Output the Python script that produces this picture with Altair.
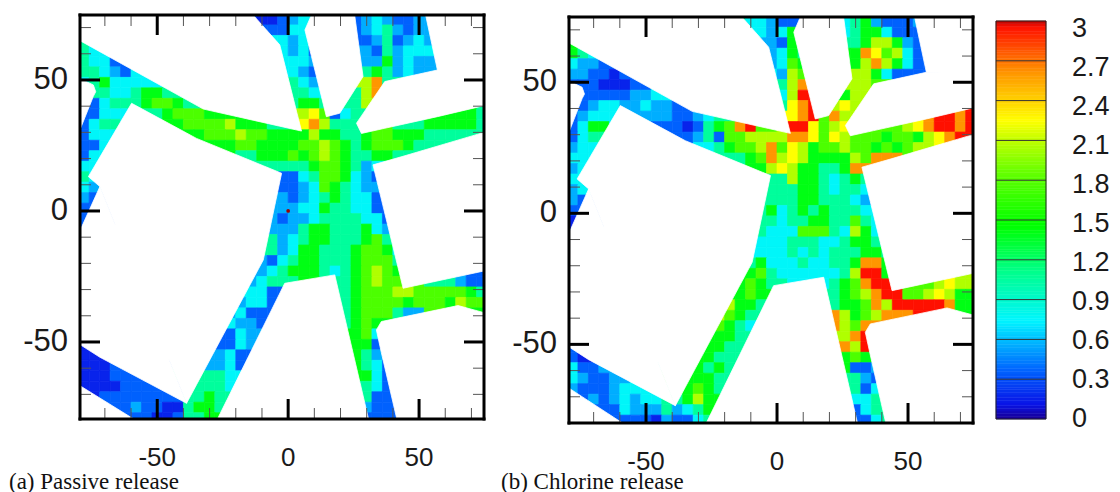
import re
import altair as alt
import pandas as pd

# ---- field values, one letter per 4x4 cell ('.' = building, N.=run of N)
LEVELS = {'b': .15, 'B': .35, 'l': .55, 'c': .75, 't': 1.05, 'g': 1.4, 'G': 1.75,
          'y': 2.05, 'Y': 2.24, 'o': 2.6, 'r': 2.95}
FIELD_A = [
 "16.BbbBlc4.BlclBBll5.", "17.BBBccl3.BlctlBll5.", "t18.clcl4.BltBlcll4.", "tcc16.clcB4.lBtlcccl4.",
 "tccBB14.cccl4.llglclll4.", "ttclBc13.cclB4.tgtlcll5.", "ctgcccc13.tcl4.yot9.", "Bttcctggt11.ttc3.tyo10.",
 "BBctttgGGgt9.tggt.tty11.", "BBcc3.tgGGGgg7.yYGBct12.", "Bct6.gGGGGygggtttYoyttt4.ttgggggt",
 "Bcc8.gGGGyGGggggyggttgGGgggtttttt", "BBc10.ggGGggggGGyGgtgGGGgtt5.", "Bc14.tgggGgGyGgttggt8.",
 "cc16.ttttgGGgtlc10.", "tc17.BBctGGgclB10.", "cl17.BBlcGgtcll10.", "lB17.lBlctgtccB10.",
 "B17.lllccgttccB10.", "B17.lBllcttttccB9.", "18.llltggtttgcl9.", "18.tlctggtttgGt9.",
 "18.tlcggtttgGGgc8.", "17.lBctggtttgGGGt8.", "17.lctgggtctgGyGg8.", "16.lctt4.ttgGyGG3.ttlBB",
 "16.ccB6.tgGGGyyGGGGGgt", "15.lccB6.tgGGGGgGGGgyGG", "14.lcBB7.tgGGGtl6.g", "14.cllB7.tgGg10.",
 "14.Bcl9.gGc10.", "13.BBcl9.ggB10.", "bb11.lcB10.gtl10.", "bbbB8.llcB10.gtcB9.",
 "bbbBB7.ttc12.gcB9.", "bbbbBBB4.tttc12.tcBB8.", ".bBBBBBBBBttgt13.tBBB8.", "3.BBlBBbbtggt13.lBBB8.",
 "5.BBbbBttgg14.BBB8.",
]
FIELD_B = [
 "16.tcclBB4.ctglBBBl5.", "17.cclcgl3.ctggcBBB5.", "g18.lBgc4.tgyyglBB4.", "gtc16.lcgt4.goYGycBB4.",
 "cllBB14.lcGg4.gyoygcBB4.", "llBBbB13.clyG4.yygcBBB5.", "BBBbbbB13.tyo4.yyG9.", "BBBBBBllc11.cyr3.gyy10.",
 "BBlccllcllB9.tYor.yYy11.", "Blcc3.lllBBlctt5.YorGoy12.", "Bcg6.BBbBtgGorGGyrrYGyY4.GyYorror",
 "Bct8.BltBGGyyyyooYGYyGGGgGGgyYorr", "lcc10.ctgGGyoGYygGGyGGgGgGy5.", "cc14.tgGoyYyggggyGoo8.",
 "lc16.gyYyggttgo11.", "cc17.ttyggtctgt10.", "lc17.tttggtcttc10.", "lB17.tttggtttcl10.",
 "B17.tgctgtgtttc10.", "b17.ttcttggttGtc9.", "18.tcccGGGtcygc9.", "18.ccctttcctggt9.",
 "18.ccctctctttggt8.", "17.tgccctccttgoog8.", "17.gGtcccccctyrrg8.", "16.gGgt4.ctgGorr2.GGyYyy",
 "16.gGg6.tgGyorrGGyYygg", "15.yggt6.tggGoyrrrrrogg", "14.yGgt7.oygGyoo6.g", "14.Ggtc7.oyGo10.",
 "14.ggt9.yor10.", "13.ggtt9.oyr10.", "Bb11.gtt10.gGg10.", "cBBl8.gtgt10.gBBl9.",
 "clBBl7.ggt12.tlB9.", "lBBBlcc4.gGgt12.tBcc8.", ".BlBlclccttgyg13.cctt8.", "3.BBcllltlctg13.Bctt8.",
 "5.BBBblBBct14.Bct8.",
]
# building outlines in data units
BLOCKS = {
 'A': [(-81,76),(-13.4,76),(-3.2,63.4),(5.1,30.5),(-32.4,38.9),(-81,65)],
 'W1': [(-76.3,13.1),(-59.8,41.1),(-35,27.7),(-2.5,14.4),(-9.5,-18.7),(-38.8,-73.4),(-71.9,9.3)],
 'W2': [(-81,-7.5),(-71.9,9.3),(-38.8,-73.4),(-81,-51)],
 'W3': [(-81,50.5),(-74.4,48.1),(-73.5,45.5),(-81,31)],
 'C': [(6.4,69.1),(8.9,76),(25.4,76),(28.6,51.3),(19.7,37.3),(14.6,36)],
 'D1': [(26.1,33.5),(36.9,49.4),(57,53.8),(76,53.8),(76,40.2),(28,29.6)],
 'D2': [(52.5,76),(76,76),(76,53),(57,53.8)],
 'E': [(32.4,17.6),(76,30),(76,-22.9),(43.9,-29.5)],
 'F': [(33.7,-45.4),(35.6,-42.2),(64.9,-36.1),(76,-38.8),(76,-81),(41.5,-81)],
 'G': [(-27,-81),(-1.3,-27.6),(17.8,-24.4),(30.7,-81)],
 'H': [(-81,-66.7),(-59,-81),(-81,-81)],
}
HOT_X, HOT_Y, HOT_V = [0], [0], [3.0]
MAJOR = [-50, 0, 50]
MINOR = [-70, -60, -40, -30, -20, -10, 10, 20, 30, 40, 60, 70]
COLOR_STOPS = [0, .1, .36, .73, 1.1, 1.45, 1.85, 2.05, 2.24, 2.6, 2.95, 3.0]
COLOR_RANGE = ['#18009a', '#0a14e6', '#0064ff', '#00f5ff', '#00ff8c', '#00ff00', '#66ff00',
               '#b0ff00', '#ffff00', '#ff9600', '#ff1000', '#a00000']
BAR_LABELS = [0, .3, .6, .9, 1.2, 1.5, 1.8, 2.1, 2.4, 2.7, 3]
BAR_LINES = [.3, .6, .9, 1.2, 1.5, 1.8, 2.1, 2.4, 2.7]
BAR_STEPS = [i * 0.02 for i in range(150)]

SANS = "Liberation Sans"
SERIF = "Liberation Serif"
VH = 408
color = alt.Color('v:Q', scale=alt.Scale(domain=COLOR_STOPS, range=COLOR_RANGE, interpolate='rgb'), legend=None)
stroke = alt.Stroke('v:Q', scale=alt.Scale(domain=COLOR_STOPS, range=COLOR_RANGE, interpolate='rgb'), legend=None)


def cells(rows):
    grid = []
    for j, s in enumerate(rows):
        s = re.sub(r'(\d+)\.', lambda m: '.' * int(m[1]), s)
        if len(s) != 39:
            raise ValueError(f"row {j} has {len(s)}: {s}")
        grid.append(list(s))
    # the streets run on under the building masks, so the masks give the clean edges
    for _ in range(2):
        src = [r[:] for r in grid]
        for j in range(39):
            for i in range(39):
                if src[j][i] == '.':
                    for dj, di in ((0, 1), (0, -1), (1, 0), (-1, 0), (1, 1), (-1, -1), (1, -1), (-1, 1)):
                        if 0 <= j + dj < 39 and 0 <= i + di < 39 and src[j + dj][i + di] != '.':
                            grid[j][i] = src[j + dj][i + di]
                            break
    out = []
    for j, r in enumerate(grid):
        for i, ch in enumerate(r):
            if ch != '.':
                x = -80 + 4 * i
                y = 75 - 4 * j
                out.append(dict(x=x, x1=x + 4, y=y, y1=y - 4, v=LEVELS[ch]))
    return pd.DataFrame(out)


def block_rows(poly):
    out = []
    xs = sorted({p[0] for p in poly})
    for x in xs:
        ys = []
        for (a, b), (c, d) in zip(poly, poly[1:] + poly[:1]):
            if min(a, c) <= x <= max(a, c):
                if a == c:
                    ys += [b, d]
                else:
                    ys.append(b + (d - b) * (x - a) / (c - a))
        out.append(dict(x=x, lo=min(ys), hi=max(ys)))
    return pd.DataFrame(out)


def panel(rows, caption, W, top, bottom, xdom, ydom, cap_x, cap_y, hot=False):
    sx = alt.Scale(domain=xdom, nice=False, zero=False, clamp=True)
    sy = alt.Scale(domain=ydom, range=[bottom, top], nice=False, zero=False, clamp=True)
    X = lambda f: alt.X(f, scale=sx, axis=None, title=None)
    Y = lambda f: alt.Y(f, scale=sy, axis=None, title=None)
    grid = alt.Chart(cells(rows)).mark_rect(strokeWidth=0.7).encode(
        x=X('x:Q'), x2='x1:Q', y=Y('y:Q'), y2='y1:Q', color=color, stroke=stroke)
    layers = [grid]
    for poly in BLOCKS.values():
        layers.append(alt.Chart(block_rows(poly)).mark_area(
            color='white', orient='vertical', line=False, stroke='white', strokeWidth=0.8).encode(
            x=X('x:Q'), y=Y('lo:Q'), y2='hi:Q'))
    if hot:
        layers.append(alt.Chart(pd.DataFrame({'x': HOT_X, 'y': HOT_Y, 'v': HOT_V})).mark_circle(size=14, opacity=1)
                      .encode(x=X('x:Q'), y=Y('y:Q'), color=color))
    for vals, ln, w, col in [(MINOR, 11, 1, '#555555'), (MAJOR, 20, 3, '#000000')]:
        d = pd.DataFrame({'v': vals})
        m = alt.Chart(d).mark_rule(strokeWidth=w, color=col)
        layers += [
            m.encode(x=X('v:Q'), y=alt.value(bottom), y2=alt.value(bottom - ln)),
            m.encode(x=X('v:Q'), y=alt.value(top), y2=alt.value(top + ln)),
            m.encode(y=Y('v:Q'), x=alt.value(0), x2=alt.value(ln)),
            m.encode(y=Y('v:Q'), x=alt.value(W), x2=alt.value(W - ln)),
        ]
    f = alt.Chart(pd.DataFrame({'v': [0]})).mark_rule(strokeWidth=3, color='black', strokeCap='square')
    layers += [
        f.encode(x=alt.value(0), x2=alt.value(W), y=alt.value(top)),
        f.encode(x=alt.value(0), x2=alt.value(W), y=alt.value(bottom)),
        f.encode(y=alt.value(top), y2=alt.value(bottom), x=alt.value(0)),
        f.encode(y=alt.value(top), y2=alt.value(bottom), x=alt.value(W)),
    ]
    lab = pd.DataFrame({'v': MAJOR, 's': [str(v) for v in MAJOR]})
    layers.append(alt.Chart(lab).mark_text(font=SANS, fontSize=26, color='#1a1a1a', baseline='middle', align='center')
                  .encode(x=X('v:Q'), y=alt.value(bottom + 39), text='s:N'))
    layers.append(alt.Chart(lab).mark_text(font=SANS, fontSize=31, color='#1a1a1a', baseline='middle', align='right')
                  .encode(y=Y('v:Q'), x=alt.value(-12), text='s:N'))
    layers.append(alt.Chart(pd.DataFrame({'t': [caption]})).mark_text(
        font=SERIF, fontSize=23, align='left', baseline='alphabetic', color='#111111'
    ).encode(x=alt.value(cap_x), y=alt.value(cap_y), text='t:N'))
    return alt.layer(*layers).properties(width=W, height=VH)


a = panel(FIELD_A, "(a) Passive release", 404, 0, 404, [-79.5, 74.8], [-79.4, 74.8], -71, 474, hot=True)
b = panel(FIELD_B, "(b) Chlorine release", 404, 2, 408, [-79.4, 74.8], [-80, 74.9], -68, 474)

# colour bar
BT, BB = 6, 404
bar_y = alt.Scale(domain=[0, 3], range=[BB, BT], nice=False, zero=False)
step = pd.DataFrame({'v': BAR_STEPS, 'v1': [s + 0.02 for s in BAR_STEPS]})
bar = alt.Chart(step).mark_rect(strokeWidth=0.5).encode(
    x=alt.value(0), x2=alt.value(50),
    y=alt.Y('v:Q', scale=bar_y, axis=None), y2='v1:Q', color=color, stroke=stroke)
lines = alt.Chart(pd.DataFrame({'v': BAR_LINES})).mark_rule(color='#333333', strokeWidth=1).encode(
    x=alt.value(0), x2=alt.value(50), y=alt.Y('v:Q', scale=bar_y, axis=None))
fr = alt.Chart(pd.DataFrame({'v': [0]})).mark_rule(color='#222222', strokeWidth=1)
frames = [
    fr.encode(x=alt.value(0), x2=alt.value(50), y=alt.value(BT)),
    fr.encode(x=alt.value(0), x2=alt.value(50), y=alt.value(BB)),
    fr.encode(y=alt.value(BT), y2=alt.value(BB), x=alt.value(0)),
    fr.encode(y=alt.value(BT), y2=alt.value(BB), x=alt.value(50)),
]
labels = alt.Chart(pd.DataFrame({'v': BAR_LABELS})).mark_text(
    font=SANS, fontSize=27, align='left', baseline='middle', color='#1a1a1a'
).encode(x=alt.value(76), y=alt.Y('v:Q', axis=None, scale=alt.Scale(domain=[0, 3], range=[BB, 14], nice=False, zero=False)),
         text=alt.Text('v:Q'))
hidden = alt.Chart(pd.DataFrame({'v': [0]})).mark_rule(opacity=0).encode(
    x=alt.value(-6), x2=alt.value(0), y=alt.value(100))
cbar = alt.layer(alt.layer(bar, lines, *frames, hidden), labels).resolve_scale(y='independent').properties(width=50, height=VH)

chart = alt.hconcat(a, b, cbar, spacing=14).properties(
    padding={"left": 1, "top": 4, "right": 0, "bottom": 0}, background='white'
).configure_view(stroke=None)
chart.save("out.html", embed_options={"renderer": "svg", "actions": False})
